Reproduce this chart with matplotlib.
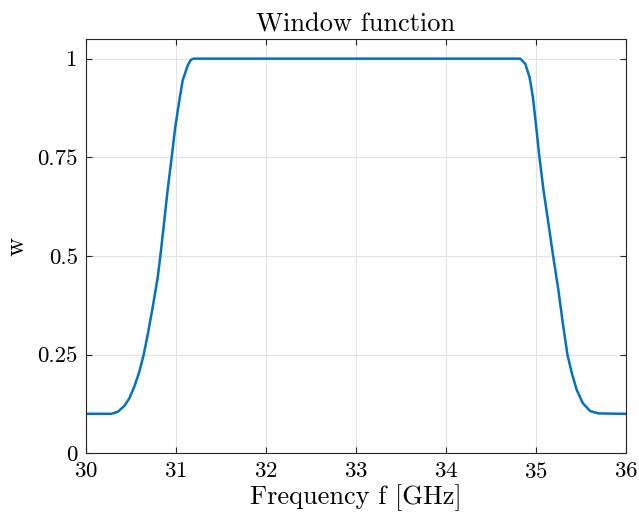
import matplotlib
matplotlib.use('Agg')
import matplotlib.pyplot as plt

# values
freq = [30.00, 30.28, 30.352, 30.426, 30.481, 30.537, 30.593, 30.641, 30.685,
        30.741, 30.796, 30.826, 30.87, 30.907, 30.952, 30.992, 31.037, 31.074,
        31.13, 31.165, 31.196,
        34.824, 34.88, 34.928, 34.965, 35.002, 35.038, 35.083, 35.138,
        35.19, 35.249, 35.298, 35.349, 35.398, 35.453, 35.52, 35.601, 35.693,
        36.00]
w = [0.10, 0.10, 0.105, 0.12, 0.139, 0.169, 0.207, 0.25, 0.30,
     0.37, 0.445, 0.50, 0.59, 0.667, 0.75, 0.827, 0.894, 0.945,
     0.983, 0.997, 1.00,
     1.00, 0.987, 0.953, 0.903, 0.827, 0.75, 0.667, 0.582,
     0.50, 0.413, 0.329, 0.25, 0.203, 0.16, 0.127, 0.107, 0.101,
     0.10]
xticks = [30, 31, 32, 33, 34, 35, 36]
yticks = [0, 0.25, 0.5, 0.75, 1]
yticklabels = ['0', '0.25', '0.5', '0.75', '1']

plt.rcParams['font.family'] = 'serif'
plt.rcParams['font.serif'] = ['cmr10']
plt.rcParams['mathtext.fontset'] = 'cm'
plt.rcParams['axes.formatter.use_mathtext'] = True

fig = plt.figure(figsize=(6.39, 5.23), dpi=100)
ax = fig.add_axes([0.1346, 0.1333, 0.8451, 0.7923])
ax.plot(freq, w, color='#0072BD', lw=1.8)
ax.set_xlim(30, 36)
ax.set_ylim(0, 1.05)
ax.set_xticks(xticks)
ax.set_yticks(yticks)
ax.set_yticklabels(yticklabels)
ax.grid(True, color='#e3e3e3', lw=0.8)
ax.set_axisbelow(True)
ax.tick_params(direction='in', top=True, right=True, labelsize=16.5, length=4,
               width=0.8, color='#262626', pad=6)
for s in ax.spines.values():
    s.set_color('#262626')
    s.set_linewidth(0.8)
ax.set_title('Window function', fontsize=19, pad=5)
ax.set_xlabel('Frequency f [GHz]', fontsize=19, labelpad=2)
ax.set_ylabel('w', fontsize=19, labelpad=6)

fig.savefig('out.png', dpi=100)
